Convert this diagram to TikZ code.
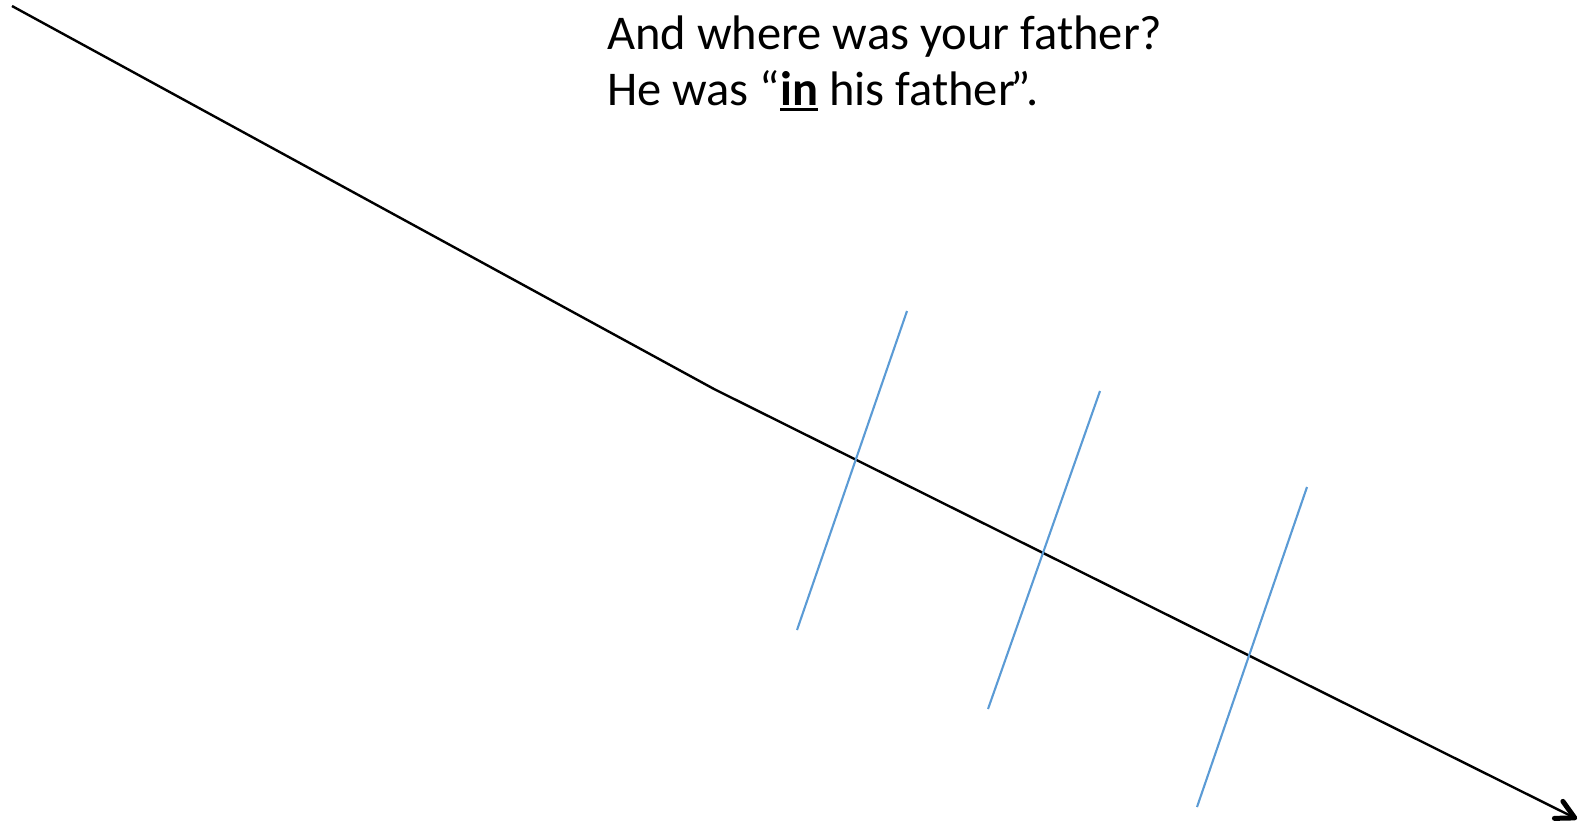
\documentclass[tikz,border=0pt]{standalone}
\usepackage{fontspec}
\setmainfont{Carlito}
\usetikzlibrary{arrows.meta}
\newcommand{\myul}[1]{\vtop{\hbox{#1}\kern3pt\hrule height 2.5pt}}
\begin{document}
\begin{tikzpicture}[x=1pt,y=-1pt,
  mainline/.style={line width=2.4pt,black},
  tick/.style={line width=2.1pt,color={rgb,255:red,91;green,155;blue,213}},
  txt/.style={anchor=base west,inner sep=0pt,font=\fontsize{48.5}{56}\selectfont}]
\useasboundingbox (0,0) rectangle (1589,828);
\coordinate (s) at (12,6);
\coordinate (b) at (714,389);
\coordinate (e) at (1577,819);
\draw[mainline,-{Straight Barb[length=18pt,width=19pt,line width=5pt,round]}] (s) -- (b) -- (e);
\coordinate (t1a) at (907,311); \coordinate (t1b) at (797,630);
\coordinate (t2a) at (1100,391); \coordinate (t2b) at (988,709);
\coordinate (t3a) at (1307,487); \coordinate (t3b) at (1197,807);
\draw[tick] (t1a) -- (t1b);
\draw[tick] (t2a) -- (t2b);
\draw[tick] (t3a) -- (t3b);
\node[txt] (l1) at (607,49) {And where was your father?};
\node[txt] (l2) at (607,105) {He was “\myul{\textbf{in}} his father\kern-4pt”.};
\end{tikzpicture}
\end{document}
